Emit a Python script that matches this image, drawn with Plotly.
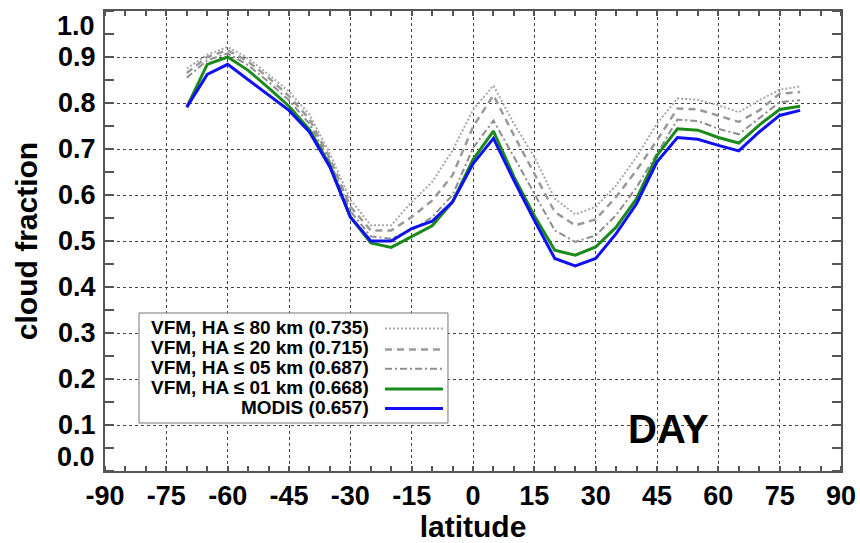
import plotly.graph_objects as go

# ---------------- data ----------------
latitude = [-70, -65, -60, -55, -50, -45, -40, -35, -30, -25, -20, -15, -10, -5, 0,
            5, 10, 15, 20, 25, 30, 35, 40, 45, 50, 55, 60, 65, 70, 75, 80]

vfm_80 = [0.875, 0.905, 0.922, 0.897, 0.862, 0.825, 0.775, 0.690, 0.590, 0.534, 0.534,
          0.585, 0.628, 0.697, 0.785, 0.838, 0.755, 0.683, 0.592, 0.558, 0.574, 0.621,
          0.683, 0.755, 0.810, 0.807, 0.795, 0.780, 0.806, 0.829, 0.836]
vfm_20 = [0.865, 0.900, 0.915, 0.890, 0.855, 0.815, 0.765, 0.680, 0.575, 0.523, 0.523,
          0.552, 0.588, 0.643, 0.748, 0.817, 0.730, 0.646, 0.563, 0.534, 0.547, 0.596,
          0.654, 0.719, 0.788, 0.786, 0.773, 0.759, 0.784, 0.820, 0.824]
vfm_05 = [0.855, 0.893, 0.908, 0.882, 0.846, 0.806, 0.755, 0.673, 0.565, 0.510, 0.505,
          0.523, 0.552, 0.600, 0.702, 0.762, 0.683, 0.603, 0.523, 0.498, 0.512, 0.556,
          0.617, 0.690, 0.764, 0.761, 0.744, 0.732, 0.766, 0.802, 0.806]
vfm_01 = [0.791, 0.884, 0.900, 0.871, 0.833, 0.793, 0.742, 0.665, 0.552, 0.496, 0.486,
          0.510, 0.533, 0.585, 0.677, 0.739, 0.640, 0.555, 0.480, 0.469, 0.487, 0.530,
          0.592, 0.686, 0.744, 0.741, 0.725, 0.713, 0.752, 0.786, 0.793]
modis = [0.791, 0.862, 0.884, 0.851, 0.817, 0.784, 0.737, 0.661, 0.552, 0.500, 0.500,
         0.527, 0.543, 0.585, 0.668, 0.723, 0.632, 0.545, 0.462, 0.446, 0.462, 0.516,
         0.581, 0.672, 0.725, 0.721, 0.708, 0.696, 0.737, 0.773, 0.784]

series_names = ["VFM, HA \u2264 80 km (0.735)", "VFM, HA \u2264 20 km (0.715)",
                "VFM, HA \u2264 05 km (0.687)", "VFM, HA \u2264 01 km (0.668)",
                "MODIS (0.657)"]
series_values = [vfm_80, vfm_20, vfm_05, vfm_01, modis]

x_ticks = list(range(-90, 91, 15))
y_ticks = [round(i * 0.1, 1) for i in range(11)]
y_tick_labels = [f"{v:.1f}" for v in y_ticks]

# ---------------- styles ----------------
colors = ["#a8a8a8", "#9a9a9a", "#8e8e8e", "#1a8a1a", "#1010f5"]
dashes = ["2px,2px", "7px,5px", "7px,3px,2px,3px", "solid", "solid"]
widths = [2, 2.5, 2, 3, 3]

FONT = "Liberation Sans, Arial, sans-serif"

fig = go.Figure()
for name, vals, c, d, w in zip(series_names, series_values, colors, dashes, widths):
    fig.add_trace(go.Scatter(x=latitude, y=vals, mode="lines", name=name,
                             line=dict(color=c, dash=d, width=w), showlegend=False))

# ---------------- custom legend (text left, line sample right) ----------------
legend_rows_y = [0.313, 0.2674, 0.2254, 0.1813, 0.1391]
shapes = [dict(type="rect", xref="paper", yref="paper", x0=0.0462, x1=0.466,
               y0=0.1043, y1=0.3435, line=dict(color="#777777", width=1),
               fillcolor="white", layer="above")]
annotations = []
for name, c, d, w, yy in zip(series_names, colors, dashes, widths, legend_rows_y):
    annotations.append(dict(xref="paper", yref="paper", x=0.362, y=yy, text="<b>%s</b>" % name,
                            showarrow=False, xanchor="right", yanchor="middle",
                            font=dict(family=FONT, size=19, color="black")))
    shapes.append(dict(type="line", xref="paper", yref="paper", x0=0.3804, x1=0.4592,
                       y0=yy - 0.003, y1=yy - 0.003, line=dict(color=c, dash=d, width=w),
                       layer="above"))

annotations.append(dict(xref="paper", yref="paper", x=0.766, y=0.0907, text="<b>DAY</b>",
                        showarrow=False, xanchor="center", yanchor="middle",
                        font=dict(family=FONT, size=40, color="black")))

# end labels of the y axis are pulled inside the frame, as in the reference
y_labels_shown = [("" if v in (0.0, 1.0) else "<b>%s</b>" % t)
                  for v, t in zip(y_ticks, y_tick_labels)]
annotations.append(dict(xref="paper", yref="paper", x=-0.011, y=1.0, text="<b>%s</b>" % y_tick_labels[-1],
                        showarrow=False, xanchor="right", yanchor="top", yshift=2,
                        font=dict(family=FONT, size=27, color="black")))
annotations.append(dict(xref="paper", yref="paper", x=-0.011, y=0.0, text="<b>%s</b>" % y_tick_labels[0],
                        showarrow=False, xanchor="right", yanchor="bottom", yshift=-3,
                        font=dict(family=FONT, size=27, color="black")))

axis_common = dict(showline=True, linecolor="#555555", linewidth=2, mirror="allticks",
                   showgrid=True, gridcolor="#444444", griddash="dot", gridwidth=1,
                   ticks="", zeroline=False, automargin=False,
                   tickfont=dict(family=FONT, size=27, color="black"))

fig.update_layout(
    width=860, height=543,
    margin=dict(l=105, r=19, t=11, b=72),
    paper_bgcolor="white", plot_bgcolor="white",
    showlegend=False,
    shapes=shapes, annotations=annotations,
    xaxis=dict(range=[-90, 90], tickmode="array", tickvals=x_ticks,
               ticktext=["<b>%d</b>" % t for t in x_ticks],
               minor=dict(dtick=5, ticks="inside", ticklen=5, tickcolor="#555555",
                          tickwidth=1.5, showgrid=False),
               ticklabelstandoff=0, ticklabeloverflow="allow",
               title=dict(text="<b>latitude</b>", standoff=0,
                          font=dict(family=FONT, size=30, color="black")),
               **axis_common),
    yaxis=dict(range=[0, 1], tickmode="array", tickvals=y_ticks,
               ticktext=y_labels_shown,
               minor=dict(dtick=0.05, ticks="inside", ticklen=9, tickcolor="#555555",
                          tickwidth=1.5, showgrid=False),
               ticklabelstandoff=2, ticklabeloverflow="allow",
               title=dict(text="<b>cloud fraction</b>", standoff=12,
                          font=dict(family=FONT, size=30, color="black")),
               **axis_common),
)

fig.write_html("out.html")
